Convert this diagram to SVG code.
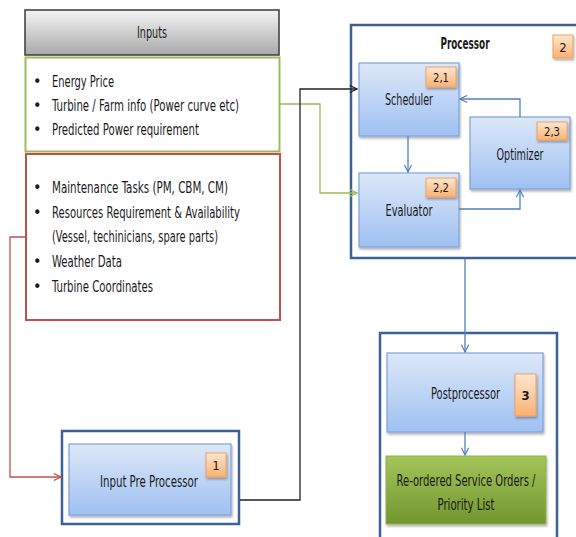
<svg xmlns="http://www.w3.org/2000/svg" width="576" height="537" viewBox="0 0 576 537">
<defs>
<linearGradient id="gBlue" x1="0" y1="0" x2="0" y2="1"><stop offset="0" stop-color="#dde8f8"/><stop offset="1" stop-color="#9fc0f2"/></linearGradient>
<linearGradient id="gOrange" x1="0" y1="0" x2="0" y2="1"><stop offset="0" stop-color="#fee6cf"/><stop offset="1" stop-color="#f9b172"/></linearGradient>
<linearGradient id="gGrey" x1="0" y1="0" x2="0" y2="1"><stop offset="0" stop-color="#f4f4f4"/><stop offset="1" stop-color="#a9a9a9"/></linearGradient>
<linearGradient id="gGreen" x1="0" y1="0" x2="0" y2="1"><stop offset="0" stop-color="#a3c55a"/><stop offset="1" stop-color="#72952f"/></linearGradient>
<filter id="sh" x="-10%" y="-10%" width="130%" height="130%"><feDropShadow dx="1" dy="2" stdDeviation="1.2" flood-color="#000" flood-opacity="0.3"/></filter>
<marker id="aBlk" viewBox="0 0 10 10" refX="9" refY="5" markerWidth="9" markerHeight="9" orient="auto" markerUnits="userSpaceOnUse"><path d="M1,1 L9,5 L1,9" fill="none" stroke="#222" stroke-width="1.3"/></marker>
<marker id="aGrn" viewBox="0 0 10 10" refX="9" refY="5" markerWidth="9" markerHeight="9" orient="auto" markerUnits="userSpaceOnUse"><path d="M1,1 L9,5 L1,9" fill="none" stroke="#9bbb59" stroke-width="1.3"/></marker>
<marker id="aRed" viewBox="0 0 10 10" refX="9" refY="5" markerWidth="9" markerHeight="9" orient="auto" markerUnits="userSpaceOnUse"><path d="M1,1 L9,5 L1,9" fill="none" stroke="#c0504d" stroke-width="1.3"/></marker>
<marker id="aBlu" viewBox="0 0 10 10" refX="9" refY="5" markerWidth="9" markerHeight="9" orient="auto" markerUnits="userSpaceOnUse"><path d="M1,1 L9,5 L1,9" fill="none" stroke="#4f81bd" stroke-width="1.3"/></marker>
<style>
text{font-family:"Liberation Sans Narrow","DejaVu Sans Condensed","Liberation Sans",sans-serif;font-stretch:condensed;fill:#1a1a1a}
.t{font-size:16px}
.c{text-anchor:middle}
.blue{fill:url(#gBlue);stroke:#7fa3d6;stroke-width:1.2;filter:url(#sh)}
.badge{fill:url(#gOrange);stroke:#f0a060;stroke-width:1;filter:url(#sh)}
.bt{font-size:13px;text-anchor:middle}
.outer{fill:#fff;stroke:#3d6193;stroke-width:2.5}
.conn{fill:none;stroke-width:1.3}
</style>
</defs>

<g id="inputs-header">
<rect x="25" y="10" width="254" height="45" fill="url(#gGrey)" stroke="#3a3a3a" stroke-width="1.5"/>
<text x="152" y="38" class="t c" textLength="30" lengthAdjust="spacingAndGlyphs">Inputs</text>
</g>

<g id="inputs-green">
<rect x="25.5" y="57.5" width="254" height="94" fill="#fff" stroke="#9bbb59" stroke-width="2"/>
<text x="33" y="87" class="t">•</text><text x="52" y="87" class="t" textLength="62" lengthAdjust="spacingAndGlyphs">Energy Price</text>
<text x="33" y="111" class="t">•</text><text x="52" y="111" class="t" textLength="187" lengthAdjust="spacingAndGlyphs">Turbine / Farm info (Power curve etc)</text>
<text x="33" y="135" class="t">•</text><text x="52" y="135" class="t" textLength="147" lengthAdjust="spacingAndGlyphs">Predicted Power requirement</text>
</g>

<g id="inputs-red">
<rect x="26" y="154" width="254" height="166" fill="#fff" stroke="#c0504d" stroke-width="2"/>
<text x="33" y="193" class="t">•</text><text x="52" y="193" class="t" textLength="176" lengthAdjust="spacingAndGlyphs">Maintenance Tasks (PM, CBM, CM)</text>
<text x="33" y="218" class="t">•</text><text x="52" y="218" class="t" textLength="188" lengthAdjust="spacingAndGlyphs">Resources Requirement &amp; Availability</text>
<text x="52" y="242" class="t" textLength="166" lengthAdjust="spacingAndGlyphs">(Vessel, techinicians, spare parts)</text>
<text x="33" y="267" class="t">•</text><text x="52" y="267" class="t" textLength="70" lengthAdjust="spacingAndGlyphs">Weather Data</text>
<text x="33" y="292" class="t">•</text><text x="52" y="292" class="t" textLength="101" lengthAdjust="spacingAndGlyphs">Turbine Coordinates</text>
</g>

<g id="input-pre-processor">
<rect x="62" y="431" width="177" height="93" class="outer"/>
<rect x="69" y="444" width="162" height="71" class="blue"/>
<text x="149" y="487" class="t c" textLength="98" lengthAdjust="spacingAndGlyphs">Input Pre Processor</text>
<rect x="206" y="453" width="20" height="24" class="badge"/>
<text x="216" y="470" class="bt" font-size="14">1</text>
</g>

<g id="processor">
<rect x="351" y="25" width="240" height="233" class="outer"/>
<text x="465" y="49" class="t c" font-weight="bold" textLength="49" lengthAdjust="spacingAndGlyphs">Processor</text>
<rect x="553" y="35" width="20" height="23" class="badge"/>
<text x="563" y="52" class="bt" font-size="15">2</text>
</g>

<g id="scheduler">
<rect x="359" y="63" width="100" height="73" class="blue"/>
<text x="409" y="105" class="t c" textLength="48" lengthAdjust="spacingAndGlyphs">Scheduler</text>
<rect x="426" y="67" width="30" height="20" class="badge"/>
<text x="441" y="82" class="bt" textLength="16" lengthAdjust="spacingAndGlyphs">2,1</text>
</g>

<g id="evaluator">
<rect x="359" y="173" width="100" height="74" class="blue"/>
<text x="409" y="216" class="t c" textLength="47" lengthAdjust="spacingAndGlyphs">Evaluator</text>
<rect x="426" y="178" width="30" height="19" class="badge"/>
<text x="441" y="192" class="bt" textLength="16" lengthAdjust="spacingAndGlyphs">2,2</text>
</g>

<g id="optimizer">
<rect x="470" y="117" width="100" height="72" class="blue"/>
<text x="520" y="160" class="t c" textLength="47" lengthAdjust="spacingAndGlyphs">Optimizer</text>
<rect x="537" y="122" width="30" height="18" class="badge"/>
<text x="552" y="136" class="bt" textLength="16" lengthAdjust="spacingAndGlyphs">2,3</text>
</g>

<g id="postprocessor-group">
<rect x="380" y="333" width="177" height="215" class="outer"/>
</g>

<g id="postprocessor">
<rect x="387" y="353" width="156" height="79" class="blue"/>
<text transform="translate(465.5,399) scale(0.72,1)" class="t c" textLength="96" lengthAdjust="spacingAndGlyphs">Postprocessor</text>
<rect x="515" y="374" width="21" height="42" class="badge"/>
<text x="525.5" y="400" class="bt" font-size="14" font-weight="bold">3</text>
</g>

<g id="service-orders">
<rect x="386" y="456" width="160" height="68" fill="url(#gGreen)" stroke="#8fb04e" stroke-width="1" filter="url(#sh)"/>
<text transform="translate(466,486) scale(0.72,1)" class="t c" textLength="193" lengthAdjust="spacingAndGlyphs">Re-ordered Service Orders /</text>
<text x="466" y="510" class="t c" textLength="57" lengthAdjust="spacingAndGlyphs">Priority List</text>
</g>

<g id="connectors">
<path class="conn" d="M280,104 H320 V193 H357" stroke="#9bbb59" marker-end="url(#aGrn)"/>
<path class="conn" d="M26,237 H10 V477 H61" stroke="#c0504d" marker-end="url(#aRed)"/>
<path class="conn" d="M240,500 H300 V89 H357" stroke="#222" marker-end="url(#aBlk)"/>
<path class="conn" d="M408,136 V172" stroke="#4f81bd" marker-end="url(#aBlu)"/>
<path class="conn" d="M459,209 H520 V190" stroke="#4f81bd" marker-end="url(#aBlu)"/>
<path class="conn" d="M520,117 V99 H460" stroke="#4f81bd" marker-end="url(#aBlu)"/>
<path class="conn" d="M465,259 V352" stroke="#4f81bd" marker-end="url(#aBlu)"/>
<path class="conn" d="M465,432 V455" stroke="#4f81bd" marker-end="url(#aBlu)"/>
</g>
</svg>
